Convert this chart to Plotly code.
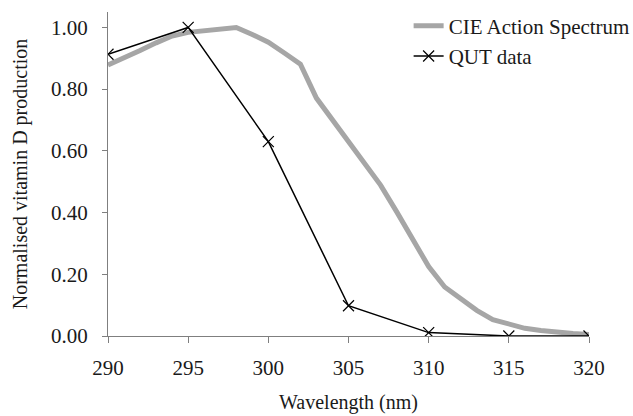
import plotly.graph_objects as go

cie_wl = [290, 291, 292, 293, 294, 295, 296, 297, 298, 299, 300, 301, 302, 303, 304, 305,
          306, 307, 308, 309, 310, 311, 312, 313, 314, 315, 316, 317, 318, 319, 320]
cie_val = [0.878, 0.900, 0.925, 0.950, 0.972, 0.984, 0.990, 0.996, 1.000, 0.977, 0.952, 0.917,
           0.881, 0.771, 0.701, 0.629, 0.559, 0.489, 0.403, 0.314, 0.225, 0.159, 0.119, 0.083,
           0.053, 0.040, 0.025, 0.018, 0.012, 0.008, 0.005]

qut_wl = [290, 295, 300, 305, 310, 315, 320]
qut_val = [0.913, 1.000, 0.630, 0.098, 0.011, 0.000, 0.000]

x_ticks = [290, 295, 300, 305, 310, 315, 320]
y_ticks = [0.0, 0.2, 0.4, 0.6, 0.8, 1.0]

font_family = "Liberation Serif"
text_color = "#1a1a1a"
axis_color = "#7f7f7f"
title_font = dict(family=font_family, size=20, color=text_color)
tick_font = dict(family=font_family, size=21, color=text_color)

fig = go.Figure()
fig.add_trace(go.Scatter(
    x=cie_wl, y=cie_val, mode="lines", name="CIE Action Spectrum",
    line=dict(color="#a6a6a6", width=5),
))
fig.add_trace(go.Scatter(
    x=qut_wl, y=qut_val, mode="lines+markers", name="QUT data",
    line=dict(color="#000000", width=1.5),
    marker=dict(symbol="x-thin", size=11, line=dict(color="#000000", width=1.2)),
))

fig.update_layout(
    width=633, height=416,
    margin=dict(l=108, r=44, t=12, b=80, autoexpand=False),
    paper_bgcolor="white", plot_bgcolor="white",
    font=dict(family=font_family, size=20, color=text_color),
    legend=dict(x=0.625, y=1.02, xanchor="left", yanchor="top",
                bgcolor="rgba(0,0,0,0)", font=dict(family=font_family, size=21, color=text_color),
                tracegroupgap=0, itemwidth=30),
    showlegend=True,
)
fig.update_xaxes(
    range=[290, 320], tickvals=x_ticks, ticktext=[str(v) for v in x_ticks],
    showgrid=False, zeroline=False, showline=True, linecolor=axis_color, linewidth=1,
    ticks="outside", ticklen=6, tickcolor=axis_color, ticklabelstandoff=7,
    tickfont=tick_font, automargin=False,
    title=dict(text="Wavelength (nm)", font=title_font),
)
fig.update_yaxes(
    range=[0, 1.05], tickvals=y_ticks, tickformat=".2f",
    showgrid=False, zeroline=False, showline=True, linecolor=axis_color, linewidth=1,
    ticks="outside", ticklen=5, tickcolor=axis_color, ticklabelstandoff=10,
    tickfont=tick_font, automargin=False,
    title=dict(text="Normalised vitamin D production", font=title_font, standoff=18),
)

fig.write_html(
    "out.html",
    config={"displayModeBar": False},
    post_script="document.body.style.margin='0';document.body.style.overflow='hidden';",
)
